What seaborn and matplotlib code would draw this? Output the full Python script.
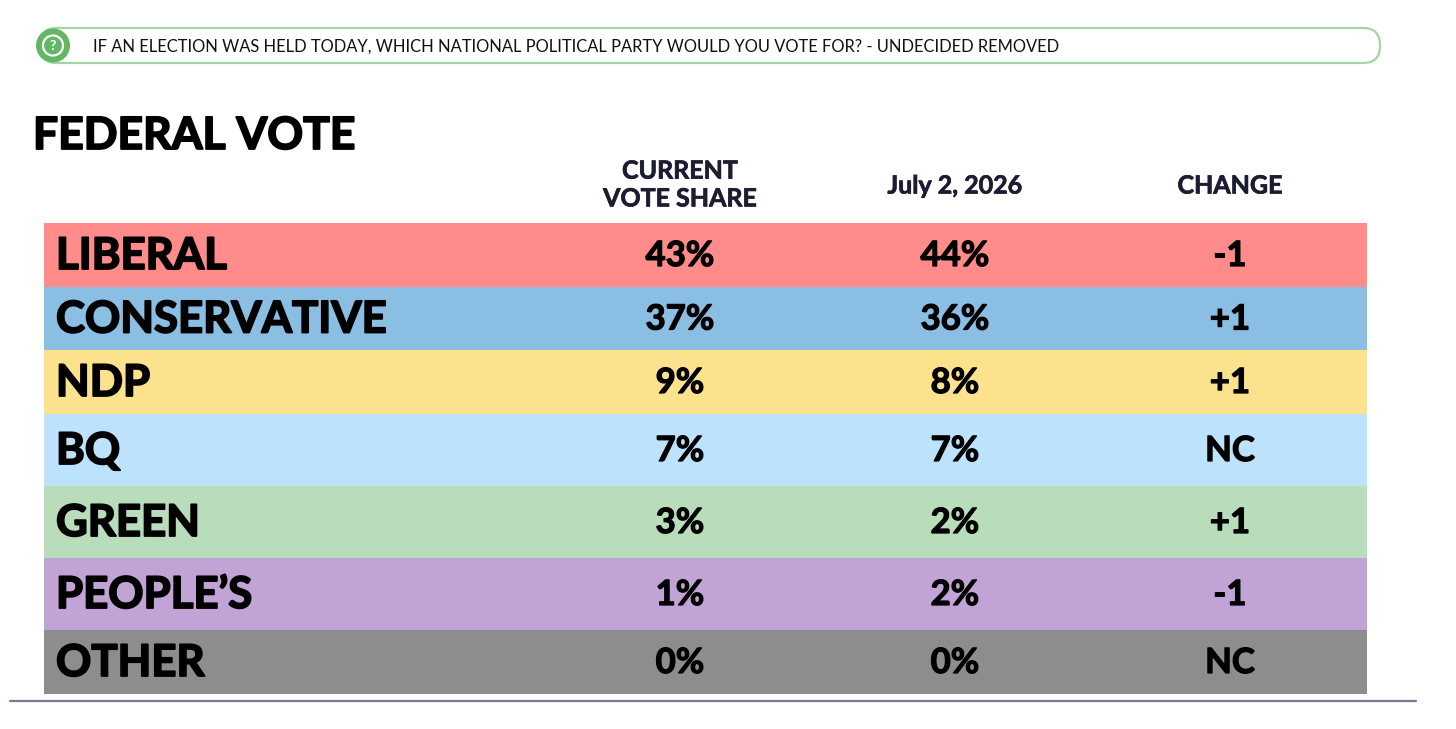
import matplotlib
matplotlib.use("Agg")
import matplotlib.pyplot as plt
import matplotlib.patheffects as pe
from matplotlib.patches import FancyBboxPatch, Circle
import seaborn as sns

# ---- data ----
parties = ["LIBERAL", "CONSERVATIVE", "NDP", "BQ", "GREEN", "PEOPLE\u2019S", "OTHER"]
current_share = [43, 37, 9, 7, 3, 1, 0]
previous_share = [44, 36, 8, 7, 2, 2, 0]
change_labels = ["-1", "+1", "+1", "NC", "+1", "-1", "NC"]
party_colors = ["#FF8B8B", "#8BBEE3", "#FDE28E", "#BDE3FC", "#B9DDBB", "#C1A3D6", "#8D8D8D"]
col_headers = ["CURRENT\nVOTE SHARE", "July 2, 2026", "CHANGE"]
title = "FEDERAL VOTE"
question = "IF AN ELECTION WAS HELD TODAY, WHICH NATIONAL POLITICAL PARTY WOULD YOU VOTE FOR? - UNDECIDED REMOVED"

sns.set_theme(style="white")
plt.rcParams["font.family"] = ["Lato", "DejaVu Sans"]

W, H = 1456, 729
fig = plt.figure(figsize=(W / 100, H / 100), dpi=100)
ax = fig.add_axes([0, 0, 1, 1])
ax.set_xlim(0, W)
ax.set_ylim(H, 0)
ax.axis("off")

heavy = [pe.withStroke(linewidth=1.3, foreground="black")]
medium = [pe.withStroke(linewidth=0.9, foreground="black")]
hdr_stroke = [pe.withStroke(linewidth=0.5, foreground="#1C1C33")]

# banner
ax.add_patch(FancyBboxPatch((40, 28), 1340, 35, boxstyle="round,pad=0,rounding_size=17",
                            facecolor="white", edgecolor="#A3D6A3", lw=1.6, zorder=1))
ax.add_patch(Circle((53, 45.5), 17, facecolor="#63B663", edgecolor="none", zorder=2))
ax.add_patch(Circle((53, 45.5), 10, facecolor="none", edgecolor="white", lw=1.6, zorder=3))
ax.text(53, 46, "?", color="white", fontsize=10, fontweight="bold", ha="center", va="center", zorder=4)
ax.text(93, 46.5, question, fontsize=11.9, color="#111111", ha="left", va="center")

# title
ax.text(33, 136, title, fontsize=32, fontweight="bold", color="#000000", ha="left", va="center",
        path_effects=heavy)

# column headers
col_x = [680, 955, 1230]
hdr_kw = dict(fontsize=18, fontweight="bold", color="#1C1C33", ha="center", va="center",
              path_effects=hdr_stroke)
ax.text(col_x[0], 185, col_headers[0], linespacing=1.25, **hdr_kw)
ax.text(col_x[1], 186, col_headers[1], **hdr_kw)
ax.text(col_x[2], 186, col_headers[2], **hdr_kw)

# rows
edges = [223, 287, 350, 414, 486, 558, 630, 694]
centers = [(a + b) / 2 for a, b in zip(edges[:-1], edges[1:])]
heights = [b - a for a, b in zip(edges[:-1], edges[1:])]
left, right = 44, 1367
ax.barh(centers, [right - left] * len(parties), left=left, height=heights,
        color=party_colors, edgecolor="none", zorder=1)

val_kw = dict(fontsize=25, fontweight="bold", color="#000000", ha="center", va="center",
              path_effects=medium)
for i, p in enumerate(parties):
    y = centers[i] + 1
    ax.text(56, y, p, fontsize=31.5, fontweight="bold", color="#000000", ha="left", va="center",
            path_effects=heavy)
    ax.text(col_x[0], y, f"{current_share[i]}%", **val_kw)
    ax.text(col_x[1], y, f"{previous_share[i]}%", **val_kw)
    ax.text(col_x[2], y, change_labels[i], **val_kw)

# bottom rule
ax.plot([10, 1416], [701, 701], color="#7E7894", lw=1.6)

fig.savefig("out.png", dpi=100)
